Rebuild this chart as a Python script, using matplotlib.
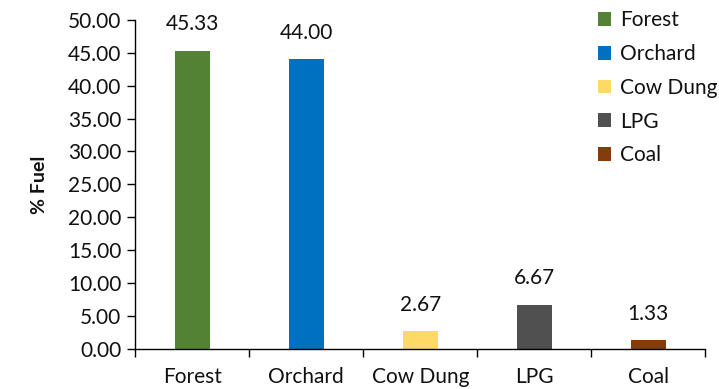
import matplotlib
matplotlib.use("Agg")
import matplotlib.pyplot as plt
from matplotlib.patches import Patch
import numpy as np

categories = ["Forest", "Orchard", "Cow Dung", "LPG", "Coal"]
values = [45.33, 44.00, 2.67, 6.67, 1.33]
colors = ["#548235", "#0070C0", "#FFD966", "#505050", "#843C0C"]
yticks = [0, 5, 10, 15, 20, 25, 30, 35, 40, 45, 50]

plt.rcParams["font.family"] = ["Lato", "DejaVu Sans"]
TXT = "#111111"
FS = 15

fig = plt.figure(figsize=(7.19, 3.89), dpi=100)
ax = fig.add_axes([0.188, 0.103, 0.793, 0.846])

x = np.arange(len(categories))
ax.bar(x, values, width=0.31, color=colors)

for xi, v in zip(x, values):
    ax.annotate(f"{v:.2f}", (xi, v), xytext=(0, 12), textcoords="offset points",
                ha="center", va="bottom", fontsize=FS, color=TXT)

ax.set_xlim(-0.5, len(categories) - 0.5)
ax.set_ylim(0, 50)
ax.set_yticks(yticks)
ax.set_yticklabels([f"{t:.2f}" for t in yticks], fontsize=FS, color=TXT)

# category boundaries carry the tick marks, labels sit at bar centres
ax.set_xticks(np.arange(len(categories) + 1) - 0.5)
ax.set_xticklabels([])
ax.set_xticks(x, minor=True)
ax.set_xticklabels(categories, minor=True, fontsize=FS, color=TXT)
ax.tick_params(axis="x", which="major", direction="out", length=6, width=1)
ax.tick_params(axis="x", which="minor", length=0, pad=13)
ax.tick_params(axis="y", direction="out", length=6, width=1, pad=4)

for side in ("top", "right"):
    ax.spines[side].set_visible(False)
for side in ("left", "bottom"):
    ax.spines[side].set_color("#000000")
    ax.spines[side].set_linewidth(1)

ax.set_ylabel("% Fuel", fontsize=14, fontweight="bold", color=TXT, labelpad=14)

handles = [Patch(facecolor=c, edgecolor="none") for c in colors]
fig.legend(handles, categories, loc="upper left", bbox_to_anchor=(0.82, 0.995),
           frameon=False, fontsize=FS, handlelength=0.65, handleheight=0.65,
           handletextpad=0.4, labelspacing=0.66, borderaxespad=0,
           labelcolor=TXT)

fig.savefig("out.png", dpi=100)
